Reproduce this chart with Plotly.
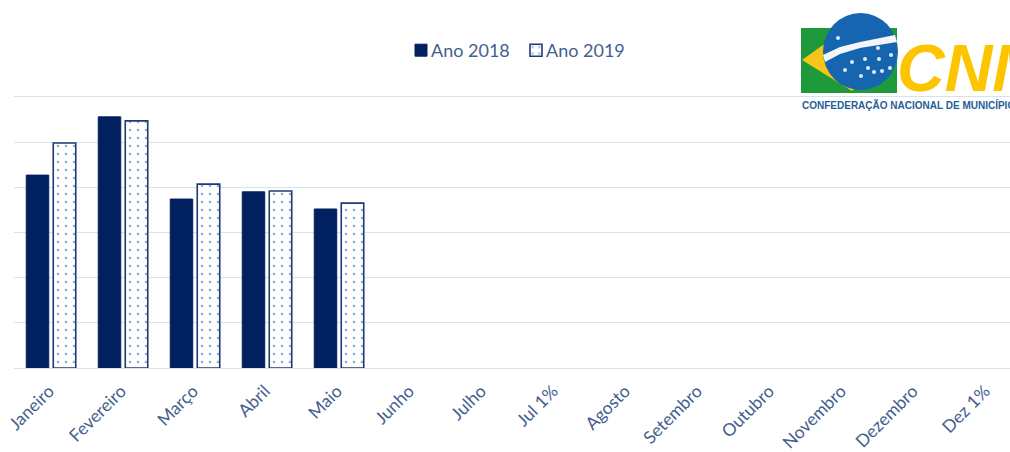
import plotly.graph_objects as go

categories = ["Janeiro", "Fevereiro", "Março", "Abril", "Maio", "Junho", "Julho", "Jul 1%",
              "Agosto", "Setembro", "Outubro", "Novembro", "Dezembro", "Dez 1%"]
ano_2018 = [4.27, 5.56, 3.74, 3.90, 3.52]
ano_2019 = [4.98, 5.47, 4.07, 3.92, 3.65]
legend_names = ["Ano 2018", "Ano 2019"]
logo_word = "CNM"
logo_caption = "CONFEDERAÇÃO NACIONAL DE MUNICÍPIOS"

W, H = 1010, 452
L, R, T, B = 14, 1010, 94, 368
NAVY = "#002060"
TXT = "#44608f"

def px(x):
    return (x - L) / (R - L)

def py(y):
    return (B - y) / (B - T)

def mrg(x0, y0, x1, y1):
    return dict(xref="paper", yref="paper", x0=px(x0), x1=px(x1), y0=py(y0), y1=py(y1))

def pth(points, fill):
    d = "M" + " L".join(f"{px(a):.5f},{py(b):.5f}" for a, b in points) + " Z"
    return dict(type="path", xref="paper", yref="paper", path=d, fillcolor=fill, line_width=0, layer="above")

fig = go.Figure()
fig.add_bar(name=legend_names[0], x=categories[:5], y=ano_2018, marker=dict(color=NAVY, line=dict(color=NAVY, width=1)))
fig.add_bar(name=legend_names[1], x=categories[:5], y=ano_2019,
            marker=dict(color="white", line=dict(color="#1f3a75", width=1.6),
                        pattern=dict(shape=".", fgcolor="#1f5fc0", bgcolor="white", size=8, solidity=0.09)))

shapes = [
    pth([(801, 28), (897, 28), (897, 93), (801, 93)], "#1e9a3c"),
    pth([(802, 60), (823, 45), (860, 30), (885, 60), (852, 91)], "#f5c518"),
    dict(type="circle", fillcolor="#1565b0", line_width=0, layer="above", **mrg(823, 13, 898, 90)),
    pth([(823, 55), (840, 47), (860, 42), (895, 35), (897, 42), (860, 48), (840, 54), (825, 62)], "#f4f6fa"),
]
for cx, cy in [(838, 38), (878, 48), (852, 62), (865, 59), (879, 59), (845, 70), (868, 68), (874, 72),
               (882, 71), (890, 68), (861, 76), (891, 55)]:
    shapes.append(dict(type="circle", fillcolor="#dfe9f5", line_width=0, layer="above", **mrg(cx - 2, cy - 2, cx + 2, cy + 2)))

fig.update_layout(
    width=W, height=H, autosize=False,
    margin=dict(l=L, r=W - R, t=T, b=H - B),
    paper_bgcolor="white", plot_bgcolor="white",
    font=dict(family="Lato, Open Sans, sans-serif", color=TXT, size=15),
    barmode="group", bargap=0.25, bargroupgap=0.167,
    showlegend=True,
    legend=dict(orientation="h", x=px(391), y=py(32), xanchor="left", yanchor="top",
                entrywidth=70, entrywidthmode="pixels",
                font=dict(size=18, color=TXT), bgcolor="rgba(0,0,0,0)", itemclick=False),
    xaxis=dict(categoryorder="array", categoryarray=categories, tickmode="array", automargin=False,
               tickvals=categories, ticktext=categories, range=[-0.514, 13.32],
               tickangle=-45, showgrid=False, showline=True, linecolor="#d5e2f0", ticks="",
               ticklabelstandoff=5, ticklabelshift=-2, tickfont=dict(size=17.5, color=TXT)),
    yaxis=dict(range=[0, 6.066], dtick=1, showticklabels=False, gridcolor="#d5e2f0", gridwidth=1, zeroline=False, ticks=""),
    shapes=shapes,
    annotations=[
        dict(xref="paper", yref="paper", x=px(895), y=py(68), xanchor="left", yanchor="middle", showarrow=False,
             text=f"<b><i>{logo_word}</i></b>", font=dict(family="Liberation Sans", size=66, color="#fcc500")),
        dict(xref="paper", yref="paper", x=px(800), y=py(105), xanchor="left", yanchor="middle", showarrow=False,
             text=f"<b>{logo_caption}</b>", font=dict(family="Liberation Sans", size=10, color="#1f5f96")),
    ],
)
post = """document.body.style.margin='0';
document.querySelectorAll('.legend .legendpoints').forEach(function(e){e.setAttribute('transform','translate(10,0)');});
document.querySelectorAll('.legend .scrollbox').forEach(function(e){e.removeAttribute('clip-path');});"""
fig.write_html("out.html", config=dict(displayModeBar=False), post_script=post)
